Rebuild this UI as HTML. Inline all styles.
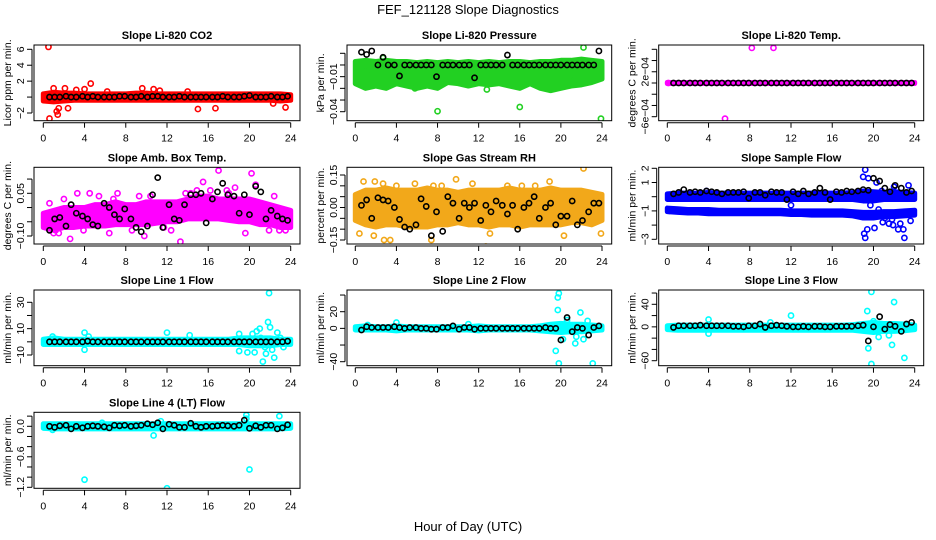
<!DOCTYPE html>
<html><head><meta charset="utf-8"><style>
html,body{margin:0;padding:0;background:#fff;}
svg{display:block;font-family:"Liberation Sans",sans-serif;}
</style></head><body>
<svg id="chart" width="936" height="540" viewBox="0 0 936 540">
<text x="468" y="14" text-anchor="middle" font-size="13">FEF_121128  Slope Diagnostics</text>
<text x="468" y="531" text-anchor="middle" font-size="13">Hour of Day (UTC)</text>
</svg>
<script>
// shared hour categories
const bandHours=[0,1,2,3,4,5,6,7,8,9,10,11,12,13,14,15,16,17,18,19,20,21,22,23,24];
const blackHours=[0.6,1.1,1.6,2.2,2.7,3.2,3.8,4.3,4.8,5.3,5.9,6.4,6.9,7.4,7.9,8.5,9.0,9.5,10.1,10.6,11.1,11.6,12.2,12.7,13.2,13.7,14.3,14.8,15.3,15.8,16.4,16.9,17.4,17.9,18.5,19.0,19.5,20.0,20.6,21.1,21.6,22.1,22.7,23.2,23.7];
const xTicks=[0,4,8,12,16,20,24];

// Panel 1: CO2
const co2Lo=[-0.5,-0.6,-0.5,-0.4,-0.4,-0.4,-0.4,-0.4,-0.4,-0.4,-0.4,-0.4,-0.4,-0.4,-0.4,-0.4,-0.4,-0.4,-0.4,-0.4,-0.4,-0.4,-0.4,-0.5,-0.4];
const co2Hi=[0.4,0.6,0.5,0.5,0.4,0.4,0.4,0.4,0.4,0.5,0.5,0.4,0.4,0.4,0.4,0.4,0.4,0.4,0.4,0.4,0.4,0.4,0.4,0.4,0.3];
const co2Black=[0,0,0,0.1,0,0,0.1,0,0.1,0,0,0,0,0.1,0.1,0,0,0.1,0,0.1,0.1,0,0,0,0.1,0,0,0,0,0,0,0,0.1,0,0,0,0.1,0.2,0,0,0,0.1,0,0,0.1];
const co2OutX=[0.5,0.6,1.0,1.3,1.5,1.4,2.4,2.1,4.6,4.0,3.2,9.6,10.7,15.0,16.7,23.5,6.2,14.0,22.3,11.3];
const co2OutY=[6.3,-2.7,1.1,-1.8,-1.4,-2.2,-1.4,1.1,1.7,1.0,0.9,1.1,1.0,-1.5,-1.4,-1.3,0.7,0.7,-0.8,0.8];

// Panel 2: Pressure
const presLo=[-0.016,-0.02,-0.018,-0.02,-0.016,-0.018,-0.02,-0.018,-0.02,-0.015,-0.016,-0.018,-0.016,-0.017,-0.016,-0.018,-0.02,-0.016,-0.02,-0.022,-0.02,-0.018,-0.017,-0.015,-0.012];
const presHi=[0.003,0.004,0.003,0.004,0.003,0.003,0.002,0.003,0.002,0.003,0.002,0.003,0.002,0.003,0.002,0.003,0.003,0.002,0.003,0.003,0.004,0.004,0.005,0.004,0.003];
const presBlack=[0.011,0.009,0.012,0.0,0.0066,0,0,-0.0094,0,0,0,0,0,0,-0.01,0,0,0,0,0,0,-0.011,0,0,0,0,0,0.0085,0,0,0,0,0,0,0,0,0,0,0,0,0,0,0,0,0.012];
const presOutX=[8.0,16.0,23.9,22.2,2.7,21.3,1.2,18.6,12.8,5.8];
const presOutY=[-0.0396,-0.036,-0.046,0.015,0.006,-0.013,-0.004,-0.019,-0.021,-0.02];

// Panel 3: Li-820 Temp
const tempLo=[-0.1e-4,-0.1e-4,-0.1e-4,-0.1e-4,-0.1e-4,-0.1e-4,-0.1e-4,-0.1e-4,-0.1e-4,-0.1e-4,-0.1e-4,-0.1e-4,-0.1e-4,-0.1e-4,-0.1e-4,-0.1e-4,-0.1e-4,-0.1e-4,-0.1e-4,-0.1e-4,-0.1e-4,-0.1e-4,-0.1e-4,-0.1e-4,-0.1e-4];
const tempHi=[0.1e-4,0.1e-4,0.1e-4,0.1e-4,0.1e-4,0.1e-4,0.1e-4,0.1e-4,0.1e-4,0.1e-4,0.1e-4,0.1e-4,0.1e-4,0.1e-4,0.1e-4,0.1e-4,0.1e-4,0.1e-4,0.1e-4,0.1e-4,0.1e-4,0.1e-4,0.1e-4,0.1e-4,0.1e-4];
const tempBlack=[0,0,0,0,0,0,0,0,0,0,0,0,0,0,0,0,0,0,0,0,0,0,0,0,0,0,0,0,0,0,0,0,0,0,0,0,0,0,0,0,0,0,0,0,0];
const tempOutX=[8.2,10.3,5.6,0.1];
const tempOutY=[6.25e-4,6.25e-4,-6.35e-4,0];

// Panel 4: Amb Box Temp
const ambLo=[-0.07,-0.08,-0.07,-0.07,-0.065,-0.065,-0.065,-0.06,-0.06,-0.06,-0.06,-0.055,-0.05,-0.05,-0.04,-0.04,-0.04,-0.04,-0.045,-0.05,-0.05,-0.06,-0.06,-0.07,-0.07];
const ambHi=[-0.02,-0.01,0.0,0.0,0.0,0.01,0.01,0.02,0.01,0.01,0.02,0.02,0.02,0.02,0.03,0.04,0.04,0.03,0.03,0.03,0.03,0.02,0.01,0.0,-0.01];
const ambBlack=[-0.08,-0.04,-0.035,-0.065,0.01,-0.02,-0.03,-0.04,-0.06,-0.065,0.015,0.0,-0.025,-0.04,-0.005,-0.04,-0.07,-0.085,-0.065,0.045,0.105,-0.07,0.01,-0.04,-0.045,0.01,0.045,0.045,0.05,-0.054,0.03,0.055,0.085,0.045,0.04,-0.02,0.045,-0.025,0.075,0.055,-0.04,-0.01,-0.03,-0.04,-0.045];
const ambOutX=[0.6,1.0,1.5,2.6,3.9,4.5,6.4,8.6,9.8,11.7,12.4,13.3,14.3,14.9,16.2,17.0,18.0,19.6,20.2,21.9,22.9,2.0,5.4,7.2,9.3,15.5,17.8,20.6,23.5,3.3,1.2,6.8,10.4,13.8,18.6,22.4];
const ambOutY=[0.015,-0.09,-0.09,-0.11,-0.08,0.05,-0.09,-0.08,-0.1,-0.07,-0.08,-0.12,0.05,0.06,0.06,0.13,0.05,-0.09,0.12,-0.08,-0.08,0.03,0.04,0.05,0.04,0.09,0.06,0.08,-0.08,0.05,-0.08,0.03,0.04,0.05,0.07,0.04];

// Panel 5: Gas Stream RH
const rhLo=[-0.06,-0.08,-0.09,-0.08,-0.08,-0.09,-0.09,-0.09,-0.08,-0.08,-0.07,-0.08,-0.08,-0.09,-0.08,-0.08,-0.09,-0.08,-0.08,-0.08,-0.08,-0.07,-0.07,-0.08,-0.06];
const rhHi=[0.06,0.08,0.08,0.09,0.08,0.08,0.08,0.09,0.08,0.08,0.07,0.08,0.08,0.08,0.08,0.09,0.08,0.08,0.08,0.09,0.08,0.08,0.08,0.07,0.06];
const rhBlack=[0.01,0.035,-0.05,0.045,0.035,0.03,0.0,-0.055,-0.09,-0.1,-0.08,0.04,0.005,-0.13,-0.02,-0.11,0.05,0.02,-0.05,0.02,0.0,0.02,-0.06,0.01,-0.02,0.03,0.01,-0.03,0.01,-0.1,0.0,0.02,0.05,-0.05,0.0,0.02,-0.08,-0.04,-0.04,0.03,-0.08,-0.06,-0.02,0.02,0.02];
const rhOutX=[0.4,0.8,1.9,2.8,2.7,3.4,4.0,1.8,7.6,7.4,8.4,12.7,14.8,16.2,17.5,18.9,22.2,22.5,23.9,9.8,13.1,20.3,5.8,11.4];
const rhOutY=[-0.12,0.12,0.12,-0.15,0.11,-0.15,0.1,-0.13,0.1,-0.15,0.1,-0.18,0.1,0.1,0.1,0.12,0.18,-0.05,-0.12,0.13,-0.12,-0.13,0.11,0.11];

// Panel 6: Sample Flow (two clusters)
const sfLoA=[-0.2,-0.2,-0.2,-0.2,-0.2,-0.2,-0.2,-0.2,-0.2,-0.2,-0.2,-0.2,-0.2,-0.2,-0.2,-0.2,-0.2,-0.2,-0.2,-0.3,-0.3,-0.2,-0.2,-0.2,-0.2];
const sfHiA=[0.2,0.25,0.25,0.25,0.3,0.25,0.25,0.25,0.25,0.25,0.25,0.25,0.25,0.25,0.25,0.25,0.25,0.25,0.3,0.4,0.35,0.3,0.35,0.3,0.25];
const sfLoB=[-1.05,-1.1,-1.15,-1.15,-1.2,-1.2,-1.2,-1.2,-1.2,-1.2,-1.2,-1.2,-1.25,-1.25,-1.3,-1.3,-1.3,-1.3,-1.35,-1.5,-1.5,-1.4,-1.4,-1.35,-1.3];
const sfHiB=[-0.8,-0.85,-0.9,-0.9,-0.9,-0.95,-0.95,-0.95,-0.95,-0.95,-0.95,-0.95,-1.0,-1.0,-1.0,-1.0,-1.0,-1.0,-1.05,-1.1,-1.1,-1.05,-1.05,-1.0,-0.95];
const sfBlack=[0.2,0.3,0.5,0.3,0.35,0.3,0.4,0.35,0.3,0.2,0.3,0.3,0.3,0.35,-0.1,0.3,0.3,0.1,0.35,0.3,0.3,-0.2,0.35,0.2,0.4,0.2,0.3,0.6,0.3,-0.2,0.35,0.3,0.4,0.35,0.4,0.5,0.45,1.3,1.1,0.6,0.35,0.8,0.6,0.3,0.4];
const sfOutX=[19.2,19.0,19.5,20.3,19.1,19.2,23.0,19.4,20.1,21.5,22.4,22.0,23.4,21.1,20.8,12.0,3.8,19.7,20.5,22.9,21.9,23.6,0.2,20.9,21.8,22.6];
const sfOutY=[1.9,1.4,1.3,1.0,-2.6,-2.9,-2.9,-2.3,-2.2,-1.9,-2.3,0.7,0.8,-1.5,0.4,-0.6,0.4,-0.6,-0.9,-2.3,-2.0,-1.7,-1.0,-1.8,-1.6,-1.9];

// Panel 7: Line 1 Flow
const l1Lo=[-2,-2,-2,-2,-2,-2,-2,-2,-2,-2,-2,-2,-2,-2,-2,-2,-2,-2,-2,-2,-3,-3,-3,-2,-2];
const l1Hi=[2,3,2,2,2,2,2,2,2,2,2,2,2,2,2,2,2,2,2,3,3,3,3,2,2];
const l1Black=[0,0,0,0,0,0,0,0.5,0,0,0,0,0,0,0,0,0,0,0,0,0,0,0,0,0,0,0,0,0,0,0,0,0,0,0,0,0,0,0,0,0,0,0,0,0.5];
const l1OutX=[0.9,4.0,4.0,4.4,12.0,14.2,19.0,19.0,19.8,20.5,21.0,21.3,21.6,21.8,21.9,22.0,22.4,22.7,23.0,20.3,21.5,22.2,23.3,20.7,21.1];
const l1OutY=[4,7,-6,4,7,5,6,-7,-8,-8,10,-15,-9,15,37,11,-12,7,3,6,-4,-6,-4,8,3];

// Panel 8: Line 2 Flow
const l2Lo=[-2,-2,-2,-2,-3,-2,-2,-2,-2,-2,-2,-2,-3,-2,-2,-2,-2,-2,-3,-4,-5,-4,-4,-3,-2];
const l2Hi=[2,3,2,2,3,2,2,2,2,2,2,2,3,2,2,2,2,2,3,5,6,5,5,4,3];
const l2Black=[-2,2,1,1,1,1,2,1,0,1,1,0,0,-1,-1,1,1,3,-1,1,1,-1,0,0,0,0,0,0,0,0,0,0,0,0,1,0,0,-14,13,-4,1,0,-8,1,3];
const l2OutX=[4.0,19.5,19.7,20.2,21.4,21.9,22.2,23.1,21.5,20.6,22.6,19.7,19.8,19.8,1.2,11.0];
const l2OutY=[7,-27,22,-13,-18,19,-13,-42,-10,10,9,37,42,-42,4,5];

// Panel 9: Line 3 Flow
const l3Lo=[-5,-6,-6,-6,-6,-6,-6,-6,-6,-6,-6,-6,-6,-6,-6,-6,-6,-6,-6,-8,-10,-8,-8,-7,-5];
const l3Hi=[2,3,3,3,3,3,3,3,3,3,3,3,3,3,3,3,3,3,4,6,8,6,6,5,3];
const l3Black=[-1,2,2,2,2,3,2,2,2,2,2,1,1,0,2,2,5,-1,2,3,2,1,0,0,1,0,1,1,0,0,1,1,1,1,2,3,-25,0,18,-4,4,1,-8,5,8];
const l3OutX=[4.0,12.0,19.4,19.5,20.0,21.8,22.0,23.0,21.5,20.5,19.8,19.8,4.0,10.0];
const l3OutY=[13,20,28,-38,10,-32,44,-55,-15,-18,62,-66,-12,8];

// Panel 10: Line 4 (LT) Flow
const l4Lo=[-0.04,-0.05,-0.05,-0.05,-0.05,-0.05,-0.05,-0.05,-0.05,-0.05,-0.05,-0.05,-0.05,-0.05,-0.05,-0.05,-0.05,-0.05,-0.05,-0.05,-0.05,-0.05,-0.05,-0.05,-0.04];
const l4Hi=[0.05,0.05,0.05,0.05,0.05,0.05,0.05,0.05,0.05,0.05,0.05,0.05,0.05,0.05,0.05,0.05,0.05,0.05,0.05,0.05,0.05,0.05,0.05,0.05,0.05];
const l4Black=[0,-0.02,0.01,0.02,-0.05,0,-0.03,0,0.01,0,-0.01,-0.03,0.02,0.01,0.02,0.0,0.01,0.02,0.05,0.03,0.07,-0.05,0.04,0.02,-0.02,-0.02,0.06,0.0,-0.02,0.0,0.0,0.01,0.02,0.01,0.0,0.02,0.12,-0.04,0.01,-0.02,0.02,0.02,-0.05,-0.03,0.03];
const l4OutX=[4.0,12.0,20.0,10.7,22.9,19.7,19.7,0.9,5.7,11.4];
const l4OutY=[-1.05,-1.22,-0.85,-0.18,0.2,0.22,0.15,-0.07,0.07,0.1];

const NS='http://www.w3.org/2000/svg';
const svg=document.getElementById('chart');
function mk(tag,attrs,parent){const e=document.createElementNS(NS,tag);for(const k in attrs)e.setAttribute(k,attrs[k]);(parent||svg).appendChild(e);return e;}

const cols=[{l:34,r:300,x0:43.3,x24:290.7},{l:347,r:611.7,x0:355.3,x24:602},{l:658.7,r:923.7,x0:667.3,x24:914.7}];
const rows=[{t:45,b:120.7},{t:167.3,b:244},{t:290,b:365.7},{t:412.3,b:488.3}];

const panels=[
 {name:'co2',c:0,r:0,title:'Slope Li-820 CO2',yl:'Licor ppm per min.',v1:6,p1:49.3,v2:-2,p2:113,ticks:[-2,0,2,4,6],labels:[[-2,'−2'],[2,'2'],[4,'4'],[6,'6']],col:'#ff0000',bands:[[co2Lo,co2Hi]],bk:co2Black,ox:co2OutX,oy:co2OutY},
 {name:'pressure',c:1,r:0,title:'Slope Li-820 Pressure',yl:'kPa per min.',v1:0.01,p1:53.3,v2:-0.04,p2:111.7,ticks:[0.01,0,-0.01,-0.02,-0.03,-0.04],labels:[[-0.01,'−0.01'],[-0.04,'−0.04']],col:'#22d022',bands:[[presLo,presHi]],bk:presBlack,ox:presOutX,oy:presOutY},
 {name:'li820-temp',c:2,r:0,title:'Slope Li-820 Temp.',yl:'degrees C per min.',v1:6e-4,p1:49.3,v2:-6e-4,p2:116.7,ticks:[6e-4,4e-4,2e-4,0,-2e-4,-4e-4,-6e-4],labels:[[2e-4,'2e−04'],[-6e-4,'−6e−04']],col:'#ff00ff',bands:[[tempLo,tempHi]],bk:tempBlack,ox:tempOutX,oy:tempOutY},
 {name:'amb-box-temp',c:0,r:1,title:'Slope Amb. Box Temp.',yl:'degrees C per min.',v1:0.05,p1:193.3,v2:-0.10,p2:236,ticks:[0.10,0.05,0,-0.05,-0.10],labels:[[0.05,'0.05'],[-0.10,'−0.10']],col:'#ff00ff',bands:[[ambLo,ambHi]],bk:ambBlack,ox:ambOutX,oy:ambOutY},
 {name:'gas-stream-rh',c:1,r:1,title:'Slope Gas Stream RH',yl:'percent per min.',v1:0.15,p1:175,v2:-0.15,p2:240,ticks:[0.15,0.10,0.05,0,-0.05,-0.10,-0.15],labels:[[0.15,'0.15'],[0,'0.00'],[-0.15,'−0.15']],col:'#f2a81a',bands:[[rhLo,rhHi]],bk:rhBlack,ox:rhOutX,oy:rhOutY},
 {name:'sample-flow',c:2,r:1,title:'Slope Sample Flow',yl:'ml/min per min.',v1:2,p1:168.3,v2:-3,p2:239.3,ticks:[2,1,0,-1,-2,-3],labels:[[2,'2'],[1,'1'],[-1,'−1'],[-3,'−3']],col:'#0000ff',bands:[[sfLoA,sfHiA],[sfLoB,sfHiB]],bk:sfBlack,ox:sfOutX,oy:sfOutY},
 {name:'line1-flow',c:0,r:2,title:'Slope Line 1 Flow',yl:'ml/min per min.',v1:30,p1:302.3,v2:-10,p2:355,ticks:[30,20,10,0,-10],labels:[[30,'30'],[10,'10'],[-10,'−10']],col:'#00ffff',bands:[[l1Lo,l1Hi]],bk:l1Black,ox:l1OutX,oy:l1OutY},
 {name:'line2-flow',c:1,r:2,title:'Slope Line 2 Flow',yl:'ml/min per min.',v1:20,p1:311.7,v2:-40,p2:361.7,ticks:[40,20,0,-20,-40],labels:[[20,'20'],[0,'0'],[-40,'−40']],col:'#00ffff',bands:[[l2Lo,l2Hi]],bk:l2Black,ox:l2OutX,oy:l2OutY},
 {name:'line3-flow',c:2,r:2,title:'Slope Line 3 Flow',yl:'ml/min per min.',v1:40,p1:304.3,v2:-60,p2:360.7,ticks:[60,40,20,0,-20,-40,-60],labels:[[40,'40'],[0,'0'],[-60,'−60']],col:'#00ffff',bands:[[l3Lo,l3Hi]],bk:l3Black,ox:l3OutX,oy:l3OutY},
 {name:'line4-flow',c:0,r:3,title:'Slope Line 4 (LT) Flow',yl:'ml/min per min.',v1:0,p1:426.3,v2:-1.2,p2:487.3,ticks:[0.2,0,-0.2,-0.4,-0.6,-0.8,-1.0,-1.2],labels:[[0,'0.0'],[-0.6,'−0.6'],[-1.2,'−1.2']],col:'#00ffff',bands:[[l4Lo,l4Hi]],bk:l4Black,ox:l4OutX,oy:l4OutY}
];

panels.forEach(p=>{
 const C=cols[p.c],R=rows[p.r];
 const xs=h=>C.x0+(C.x24-C.x0)*h/24;
 const ys=v=>p.p1+(v-p.v1)*(p.p2-p.p1)/(p.v2-p.v1);
 const g=mk('g',{});
 
 
 const cp='clip-'+p.name;
 const cl=mk('clipPath',{id:cp},g);mk('rect',{x:C.l,y:R.t,width:C.r-C.l,height:R.b-R.t},cl);
 const t=mk('text',{x:(C.l+C.r)/2,y:R.t-6,'text-anchor':'middle','font-size':'11','font-weight':'bold'},g);t.textContent=p.title;
 
 
 const yl=mk('text',{x:0,y:0,'text-anchor':'middle','font-size':'10.5',transform:`translate(${C.l-23},${(R.t+R.b)/2}) rotate(-90)`},g);yl.textContent=p.yl;
 
 
 const plot=mk('g',{'clip-path':`url(#${cp})`},g);
 p.bands.forEach(([lo,hi])=>{
  let pts=bandHours.map((h,i)=>xs(h)+','+ys(hi[i]));
  pts=pts.concat(bandHours.slice().reverse().map((h,j)=>{const i=bandHours.length-1-j;return xs(h)+','+ys(lo[i]);}));
  const b=mk('polygon',{points:pts.join(' '),fill:p.col,stroke:p.col,'stroke-width':5,'stroke-linejoin':'round'},plot);
  
  
 });
 p.ox.forEach((h,i)=>{
  const c=mk('circle',{cx:xs(h),cy:ys(p.oy[i]),r:2.6,fill:'none',stroke:p.col,'stroke-width':1.6},plot);
  
  
 });
 blackHours.forEach((h,i)=>{
  const c=mk('circle',{cx:xs(h),cy:ys(p.bk[i]),r:2.6,fill:'none',stroke:'#000','stroke-width':1.6},plot);
  
  
 });
 mk('rect',{x:C.l,y:R.t,width:C.r-C.l,height:R.b-R.t,fill:'none',stroke:'#000','stroke-width':1},g);
 mk('line',{x1:xs(0),x2:xs(24),y1:R.b+2,y2:R.b+2,stroke:'#000'},g);
 xTicks.forEach(v=>{
  mk('line',{x1:xs(v),x2:xs(v),y1:R.b+2,y2:R.b+7,stroke:'#000'},g);
  const tx=mk('text',{x:xs(v),y:R.b+21,'text-anchor':'middle','font-size':'10.5'},g);tx.textContent=v;
  
  
 });
 mk('line',{x1:C.l-2,x2:C.l-2,y1:ys(p.ticks[0]),y2:ys(p.ticks[p.ticks.length-1]),stroke:'#000'},g);
 p.ticks.forEach(v=>{mk('line',{x1:C.l-7,x2:C.l-2,y1:ys(v),y2:ys(v),stroke:'#000'},g);});
 p.labels.forEach(([v,s])=>{
  const ty=mk('text',{x:0,y:0,'text-anchor':'middle','font-size':'10.5',transform:`translate(${C.l-10},${ys(v)}) rotate(-90)`},g);ty.textContent=s;
  
  
 });
});
</script>
</body></html>
